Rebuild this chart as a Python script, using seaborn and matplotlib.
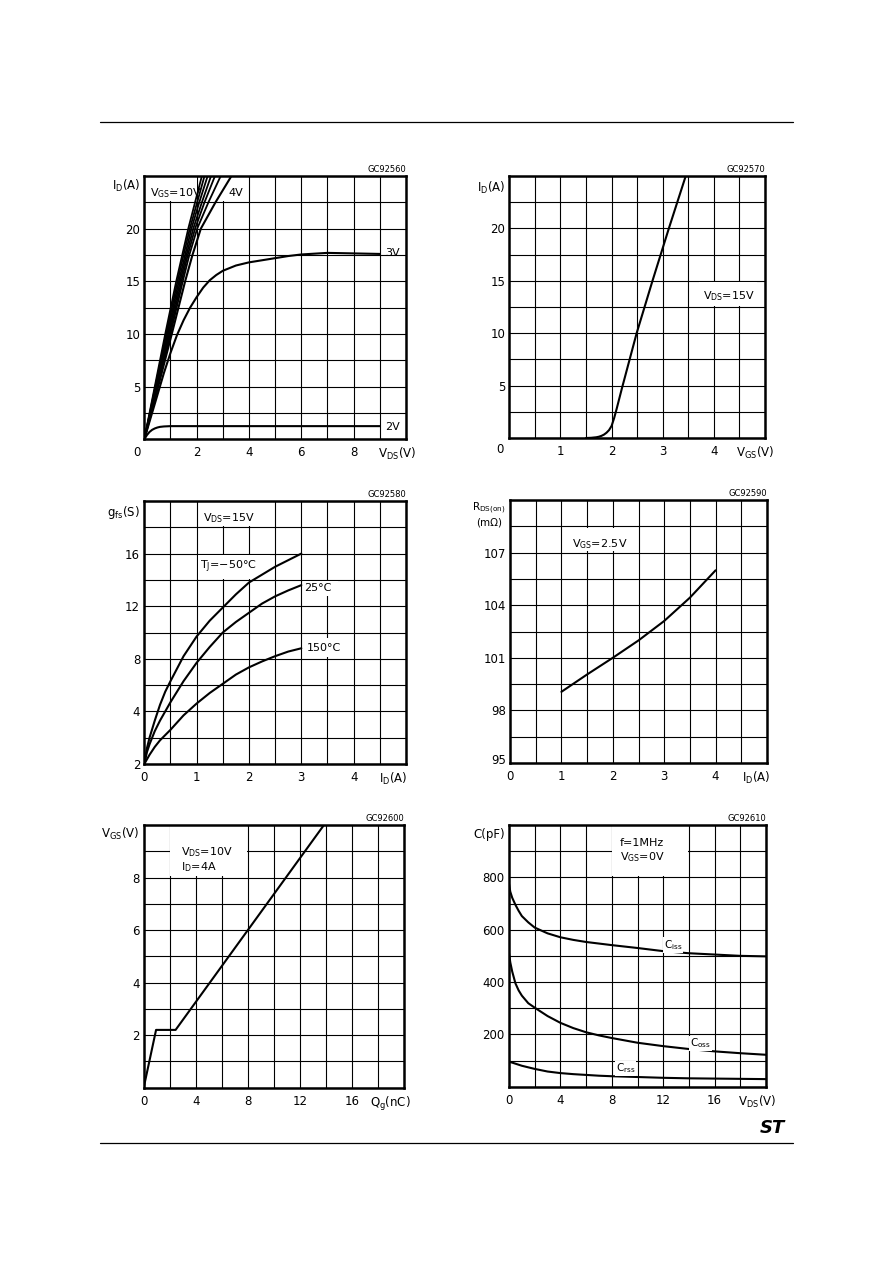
import numpy as np
import pandas as pd
import matplotlib
matplotlib.use("Agg")
import matplotlib.pyplot as plt
import seaborn as sns
from matplotlib.patches import Rectangle
from matplotlib.lines import Line2D

# ---------------- data ----------------
# Panel 1: output characteristics (Id vs Vds)
p1_id_levels = [0, 5, 10, 15, 17.5, 20, 22.5, 25]
p1_vds_10 = [0, 0.40, 0.80, 1.22, 1.45, 1.68, 1.94, 2.20]
p1_vds_9 = [0, 0.42, 0.84, 1.27, 1.50, 1.74, 2.02, 2.30]
p1_vds_8 = [0, 0.44, 0.88, 1.32, 1.56, 1.80, 2.10, 2.42]
p1_vds_7 = [0, 0.46, 0.92, 1.37, 1.61, 1.87, 2.20, 2.55]
p1_vds_6 = [0, 0.48, 0.96, 1.42, 1.66, 1.94, 2.30, 2.70]
p1_vds_5 = [0, 0.50, 1.00, 1.47, 1.72, 2.02, 2.45, 2.92]
p1_vds_4 = [0, 0.53, 1.05, 1.56, 1.84, 2.16, 2.72, 3.33]
p1_vds_3 = [0, 0.25, 0.5, 0.75, 1.0, 1.25, 1.5, 1.75, 2.0, 2.25, 2.5, 2.75, 3.0,
            3.5, 4.0, 4.5, 5.0, 5.5, 6.0, 7.0, 8.0, 9.0]
p1_id_3 = [0, 2.1, 4.2, 6.3, 8.2, 9.9, 11.3, 12.5, 13.5, 14.4, 15.1, 15.6, 16.0,
           16.5, 16.8, 17.0, 17.2, 17.4, 17.55, 17.7, 17.65, 17.6]
p1_vds_2 = [0, 0.1, 0.2, 0.3, 0.4, 0.5, 0.6, 0.75, 1.0, 2.0, 4.0, 6.0, 9.0]
p1_id_2 = [0, 0.4, 0.7, 0.9, 1.03, 1.12, 1.18, 1.22, 1.25, 1.25, 1.25, 1.25, 1.25]

# Panel 2: transfer characteristics (Id vs Vgs)
p2_vgs = [1.5, 1.6, 1.7, 1.75, 1.8, 1.85, 1.9, 1.95, 2.0, 2.05, 2.1, 2.2, 2.49, 2.80, 2.96, 3.12, 3.45]
p2_id = [0, 0.02, 0.07, 0.12, 0.2, 0.32, 0.5, 0.75, 1.15, 1.9, 2.8, 4.7, 10.0, 15.0, 17.5, 20.0, 25.0]

# Panel 3: transconductance (gfs vs Id)
p3_id = [0, 0.05, 0.1, 0.2, 0.3, 0.4, 0.5, 0.75, 1.0, 1.25, 1.5, 1.75, 2.0, 2.25, 2.5, 2.75, 3.0]
p3_gfs_m50 = [0, 1.2, 2.0, 3.3, 4.5, 5.5, 6.3, 8.2, 9.7, 10.9, 11.9, 12.9, 13.8, 14.4, 15.0, 15.5, 16.0]
p3_gfs_25 = [0, 0.9, 1.5, 2.5, 3.3, 4.0, 4.7, 6.3, 7.7, 8.9, 10.0, 10.8, 11.5, 12.2, 12.75, 13.2, 13.6]
p3_gfs_150 = [0, 0.35, 0.7, 1.3, 1.8, 2.2, 2.6, 3.7, 4.6, 5.4, 6.1, 6.8, 7.35, 7.8, 8.2, 8.55, 8.8]

# Panel 4: static drain-source on resistance
p4_id = [1.0, 1.5, 2.0, 2.5, 3.0, 3.5, 4.0]
p4_rds = [99.06, 100.05, 101.0, 101.99, 103.1, 104.43, 105.99]

# Panel 5: gate charge
p5_qg = [0, 0.95, 2.45, 13.85]
p5_vgs = [0, 2.2, 2.2, 10.0]

# Panel 6: capacitance
p6_vds = [0, 0.1, 0.25, 0.5, 0.75, 1, 1.5, 2, 3, 4, 5, 6, 7, 8, 10, 12, 14, 16, 18, 20]
p6_ciss = [775, 745, 722, 695, 672, 652, 628, 608, 586, 571, 561, 553, 547, 541, 530, 518, 510, 505, 500, 498]
p6_coss = [510, 475, 440, 395, 368, 348, 319, 302, 270, 244, 224, 208, 196, 186, 168, 155, 144, 135, 128, 122]
p6_crss = [96, 94, 92, 88, 84, 80, 74, 68, 58, 52, 48, 45, 42, 40, 37, 34, 32, 31, 30, 29]

# ---------------- style ----------------
sns.set_theme(style="white")
plt.rcParams["font.family"] = ["DejaVu Sans"]
plt.rcParams["mathtext.default"] = "regular"
plt.rcParams["axes.axisbelow"] = True
plt.rcParams["text.color"] = "black"

W, H = 892, 1263
fig = plt.figure(figsize=(W / 100, H / 100), dpi=100)
fig.patch.set_facecolor("white")

TICK_FS = 8.5
LBL_FS = 8.0


def add_ax(l, t, r, b):
    return fig.add_axes([l / W, 1 - b / H, (r - l) / W, (b - t) / H])


def style_ax(ax, xlim, ylim, xgrid, ygrid, xt, xtl, yt, ytl, code):
    ax.xaxis.remove_overlapping_locs = False
    ax.yaxis.remove_overlapping_locs = False
    ax.set_xlim(*xlim)
    ax.set_ylim(*ylim)
    ax.set_xticks(xgrid, minor=True)
    ax.set_yticks(ygrid, minor=True)
    ax.set_xticks(xt)
    ax.set_xticklabels(xtl)
    ax.set_yticks(yt)
    ax.set_yticklabels(ytl)
    ax.grid(False, which="major")
    ax.grid(True, which="minor", color="black", lw=0.8)
    ax.tick_params(which="both", length=0)
    ax.tick_params(axis="x", which="major", pad=5, labelsize=TICK_FS, colors="black")
    ax.tick_params(axis="y", which="major", pad=3, labelsize=TICK_FS, colors="black")
    for s in ax.spines.values():
        s.set_visible(True)
        s.set_color("black")
        s.set_linewidth(1.8)
    ax.set_xlabel("")
    ax.set_ylabel("")
    ax.text(1.0, 1.006, code, transform=ax.transAxes, ha="right", va="bottom",
            fontsize=6.0, color="black")
    if ax.get_legend() is not None:
        ax.get_legend().remove()


def box(ax, x0, y0, x1, y1):
    ax.add_patch(Rectangle((x0, y0), x1 - x0, y1 - y0, facecolor="white",
                           edgecolor="none", zorder=1.2))


def draw(ax, xs_list, ys_list, lw=1.5):
    rows = []
    for k, (xs, ys) in enumerate(zip(xs_list, ys_list)):
        for x, y in zip(xs, ys):
            rows.append((k, x, y))
    df = pd.DataFrame(rows, columns=["curve", "x", "y"])
    sns.lineplot(data=df, x="x", y="y", units="curve", estimator=None, sort=False,
                 color="black", lw=lw, ax=ax, legend=False, zorder=3)


# ---------------- Panel 1 ----------------
ax1 = add_ax(144.3, 176, 406, 439.3)
box(ax1, 0.05, 22.6, 2.0, 24.95)
box(ax1, 2.97, 22.6, 3.97, 24.95)
draw(ax1, [p1_vds_10, p1_vds_9, p1_vds_8, p1_vds_7, p1_vds_6, p1_vds_5],
     [p1_id_levels] * 6, lw=1.3)
draw(ax1, [p1_vds_4, p1_vds_3, p1_vds_2], [p1_id_levels, p1_id_3, p1_id_2], lw=1.5)
style_ax(ax1, (0, 10), (0, 25), np.arange(0, 10.01, 1), np.arange(0, 25.01, 2.5),
         [2, 4, 6, 8, 9.65], ["2", "4", "6", "8", r"$V_{DS}$(V)"],
         [5, 10, 15, 20, 24.25], ["5", "10", "15", "20", r"$I_D$(A)"], "GC92560")
ax1.text(-0.028, -0.05, "0", transform=ax1.transAxes, ha="center", va="center", fontsize=TICK_FS)
ax1.text(0.2, 23.4, r"$V_{GS}$=10V", fontsize=LBL_FS, va="center", zorder=4)
ax1.text(3.2, 23.4, "4V", fontsize=LBL_FS, va="center", zorder=4)
ax1.text(9.2, 17.7, "3V", fontsize=LBL_FS, va="center", zorder=4)
ax1.text(9.2, 1.2, "2V", fontsize=LBL_FS, va="center", zorder=4)

# ---------------- Panel 2 ----------------
ax2 = add_ax(509.3, 176, 765, 438)
box(ax2, 3.7, 12.6, 4.85, 14.9)
draw(ax2, [p2_vgs], [p2_id])
style_ax(ax2, (0, 5), (0, 25), np.arange(0, 5.01, 0.5), np.arange(0, 25.01, 2.5),
         [1, 2, 3, 4, 4.81], ["1", "2", "3", "4", r"$V_{GS}$(V)"],
         [5, 10, 15, 20, 24.1], ["5", "10", "15", "20", r"$I_D$(A)"], "GC92570")
ax2.text(-0.035, -0.045, "0", transform=ax2.transAxes, ha="center", va="center", fontsize=TICK_FS)
ax2.text(3.78, 13.5, r"$V_{DS}$=15V", fontsize=LBL_FS, va="center", zorder=4)

# ---------------- Panel 3 ----------------
ax3 = add_ax(144.3, 501, 406, 764)
box(ax3, 1.05, 18.1, 2.45, 19.95)
box(ax3, 1.02, 14.1, 2.4, 15.9)
box(ax3, 3.04, 12.8, 3.7, 13.9)
box(ax3, 3.04, 8.1, 3.85, 9.6)
draw(ax3, [p3_id] * 3, [p3_gfs_m50, p3_gfs_25, p3_gfs_150])
style_ax(ax3, (0, 5), (0, 20), np.arange(0, 5.01, 0.5), np.arange(0, 20.01, 2),
         [0, 1, 2, 3, 4, 4.75], ["0", "1", "2", "3", "4", r"$I_D$(A)"],
         [0, 4, 8, 12, 16, 19.3], ["2", "4", "8", "12", "16", r"$g_{fs}$(S)"], "GC92580")
ax3.text(1.13, 18.7, r"$V_{DS}$=15V", fontsize=LBL_FS, va="center", zorder=4)
ax3.text(1.06, 15.0, r"$T_J$=$-$50°C", fontsize=LBL_FS, va="center", zorder=4)
ax3.text(3.05, 13.35, "25°C", fontsize=LBL_FS, va="center", zorder=4)
ax3.text(3.1, 8.8, "150°C", fontsize=LBL_FS, va="center", zorder=4)

# ---------------- Panel 4 ----------------
ax4 = add_ax(510, 500, 767, 763)
box(ax4, 1.05, 107.1, 2.45, 108.4)
draw(ax4, [p4_id], [p4_rds])
style_ax(ax4, (0, 5), (95, 110), np.arange(0, 5.01, 0.5), np.arange(95, 110.01, 1.5),
         [0, 1, 2, 3, 4, 4.79], ["0", "1", "2", "3", "4", r"$I_D$(A)"],
         [95.2, 98, 101, 104, 107, 109.3], ["95", "98", "101", "104", "107",
                                          "$R_{DS(on)}$\n(mΩ)"], "GC92590")
for t in ax4.get_yticklabels():
    if "R" in t.get_text():
        t.set_fontsize(7.5)
        t.set_multialignment("center")
ax4.text(1.2, 107.46, r"$V_{GS}$=2.5V", fontsize=LBL_FS, va="center", zorder=4)

# ---------------- Panel 5 ----------------
ax5 = add_ax(143.7, 825, 404, 1087.7)
box(ax5, 2.05, 8.05, 7.95, 9.95)
draw(ax5, [p5_qg], [p5_vgs])
style_ax(ax5, (0, 20), (0, 10), np.arange(0, 20.01, 2), np.arange(0, 10.01, 1),
         [0, 4, 8, 12, 16, 18.98], ["0", "4", "8", "12", "16", r"$Q_g$(nC)"],
         [2, 4, 6, 8, 9.72], ["2", "4", "6", "8", r"$V_{GS}$(V)"], "GC92600")
ax5.text(2.9, 8.98, r"$V_{DS}$=10V", fontsize=LBL_FS, va="center", zorder=4)
ax5.text(2.9, 8.41, r"$I_D$=4A", fontsize=LBL_FS, va="center", zorder=4)

# ---------------- Panel 6 ----------------
ax6 = add_ax(509, 825, 766, 1086.7)
box(ax6, 8.05, 805, 13.95, 995)
draw(ax6, [p6_vds] * 3, [p6_ciss, p6_coss, p6_crss])
style_ax(ax6, (0, 20), (0, 1000), np.arange(0, 20.01, 2), np.arange(0, 1000.1, 100),
         [0, 4, 8, 12, 16, 19.34], ["0", "4", "8", "12", "16", r"$V_{DS}$(V)"],
         [200, 400, 600, 800, 969], ["200", "400", "600", "800", "C(pF)"], "GC92610")
ax6.text(8.6, 930, "f=1MHz", fontsize=LBL_FS, va="center", zorder=4)
ax6.text(8.6, 879, r"$V_{GS}$=0V", fontsize=LBL_FS, va="center", zorder=4)
for txt, x, y in [(r"$C_{iss}$", 12.06, 541), (r"$C_{oss}$", 14.09, 166), (r"$C_{rss}$", 8.33, 70)]:
    ax6.text(x, y, txt, fontsize=7.5, va="center", zorder=4,
             bbox=dict(facecolor="white", edgecolor="none", pad=0.5))

# ---------------- page decorations ----------------
fig.add_artist(Line2D([100 / W, 793 / W], [1 - 122 / H] * 2, color="black", lw=0.9))
fig.add_artist(Line2D([100 / W, 793 / W], [1 - 1143 / H] * 2, color="black", lw=0.9))
fig.text(772 / W, 1 - 1128 / H, "ST", fontsize=13, fontweight="bold", fontstyle="italic",
         ha="center", va="center", color="black")

fig.savefig("out.png", dpi=100, facecolor="white")
